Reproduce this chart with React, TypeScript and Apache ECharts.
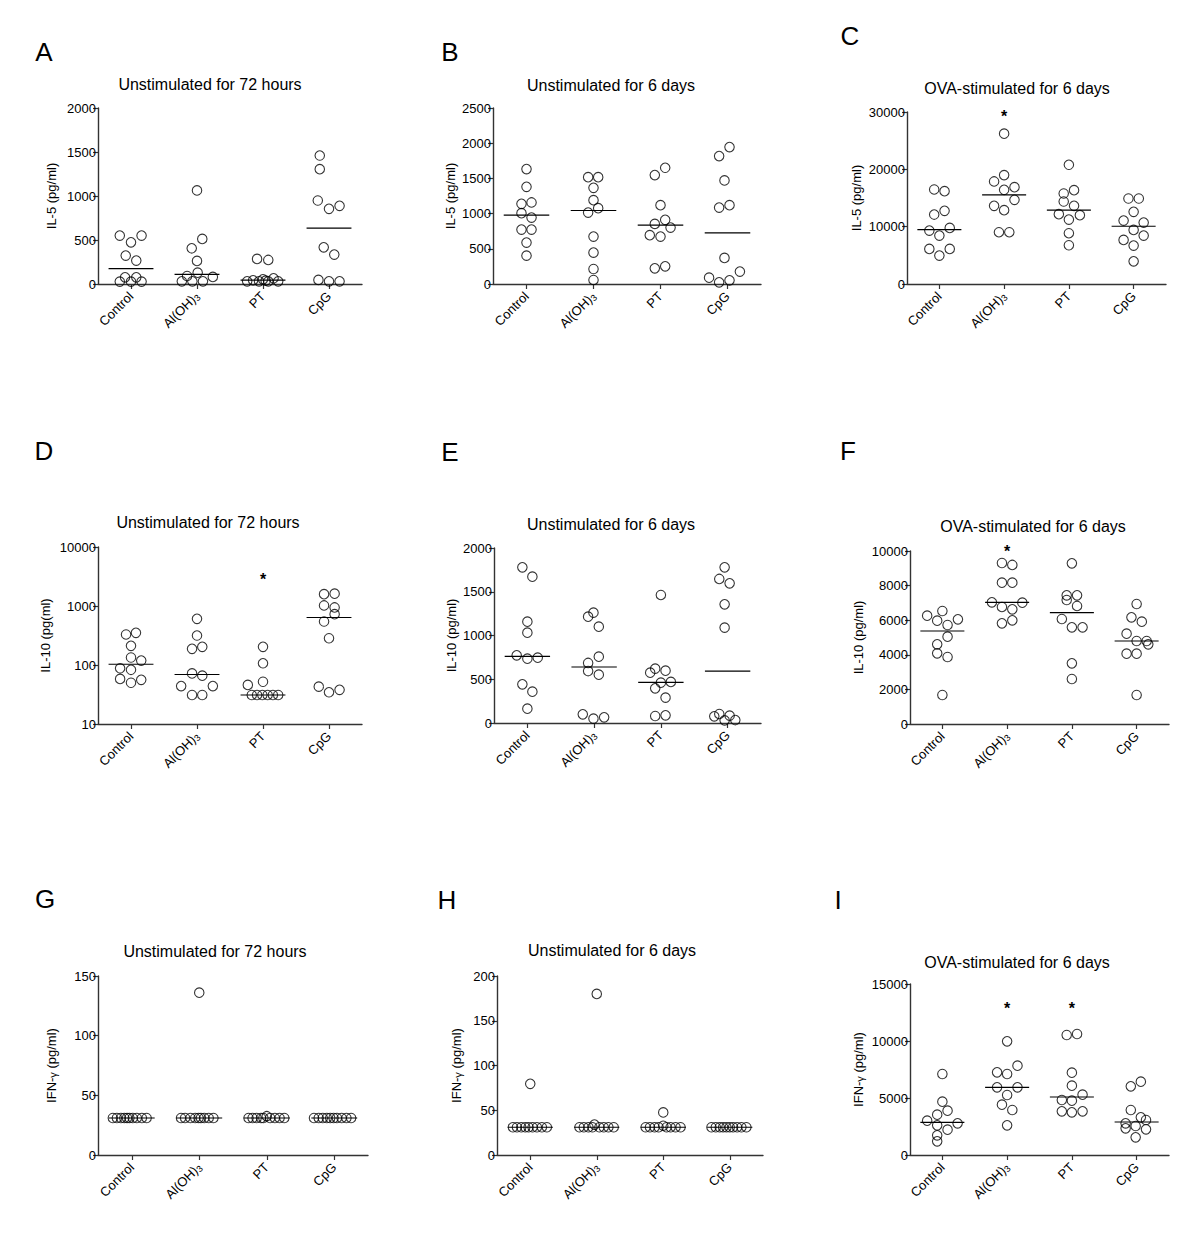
import React, { useEffect, useRef } from 'react';
import * as echarts from 'echarts';

const FONT = '"Liberation Sans", Arial, Helvetica, sans-serif';

const categories = ['Control', 'Al(OH)3', 'PT', 'CpG'];

// ---------------- Panel A : IL-5, unstimulated 72 h ----------------
const A_vals = [
  [550, 474, 550, 323, 266, 76, 76, 27, 27, 27],
  [1063, 512, 406, 262, 129, 91, 80, 30, 30, 30],
  [285, 273, 30, 42, 30, 53, 30, 65, 30, 38],
  [1460, 1305, 949, 854, 888, 417, 334, 46, 30, 30],
];
const A_dx = [
  [-0.17, 0, 0.16, -0.08, 0.08, -0.09, 0.08, -0.17, 0, 0.16],
  [0, 0.08, -0.08, 0, 0.01, -0.15, 0.24, -0.23, -0.07, 0.09],
  [-0.09, 0.08, -0.24, -0.15, -0.06, 0, 0.08, 0.16, 0.23, 0.04],
  [-0.14, -0.14, -0.17, 0, 0.16, -0.08, 0.08, -0.16, 0, 0.16],
];
const A_mid = [175, 110, 45, 634];
const A_star: number[][] = [];

// ---------------- Panel B : IL-5, unstimulated 6 d ----------------
const B_vals = [
  [1632, 1380, 1139, 1158, 1006, 944, 773, 773, 588, 403],
  [1518, 1518, 1366, 1191, 1015, 1077, 674, 446, 213, 57],
  [1547, 1651, 1120, 854, 911, 802, 693, 674, 223, 251],
  [1817, 1945, 1471, 1086, 1120, 370, 176, 90, 24, 52],
];
const B_dx = [
  [0, 0, -0.075, 0.075, -0.075, 0.075, -0.075, 0.075, 0, 0],
  [-0.08, 0.07, 0, 0, -0.08, 0.07, 0, 0, 0, 0],
  [-0.085, 0.07, 0, -0.085, 0.07, 0.15, -0.16, 0, -0.085, 0.07],
  [-0.125, 0.03, -0.045, -0.125, 0.03, -0.045, 0.185, -0.275, -0.125, 0.03],
];
const B_mid = [977, 1044, 835, 726];
const B_star: number[][] = [];

// ---------------- Panel C : IL-5, OVA 6 d ----------------
const C_vals = [
  [16485, 16194, 12116, 12757, 9320, 8446, 9786, 6116, 6116, 4951],
  [26213, 17883, 18990, 16427, 16893, 13630, 12873, 14679, 9029, 9029],
  [20796, 15786, 16368, 14388, 13630, 12174, 11242, 12000, 8854, 6757],
  [14912, 14912, 12582, 11068, 10718, 9437, 7689, 8446, 6699, 3961],
];
const C_dx = [
  [-0.08, 0.08, -0.08, 0.08, -0.155, 0, 0.16, -0.155, 0.16, 0],
  [0, -0.155, 0, 0, 0.16, -0.155, 0, 0.16, -0.08, 0.08],
  [0, -0.08, 0.08, -0.08, 0.08, -0.155, 0, 0.17, 0, 0],
  [-0.08, 0.08, 0, -0.155, 0.155, 0, -0.155, 0.155, 0, 0],
];
const C_mid = [9495, 15553, 12873, 10077];
const C_star = [[1, 30000]];

// ---------------- Panel D : IL-10, unstimulated 72 h (log) ----------------
const D_vals = [
  [329, 351, 211, 134, 119, 88, 83, 58, 56, 50],
  [607, 316, 188, 203, 72, 66, 44, 44, 31, 31],
  [203, 107, 52, 46, 31, 31, 31, 31, 31, 31],
  [1589, 1620, 1021, 944, 728, 546, 284, 43, 34.5, 38],
];
const D_dx = [
  [-0.075, 0.075, 0, 0, 0.155, -0.165, 0, -0.165, 0.155, 0],
  [0, 0, -0.075, 0.08, -0.075, 0.08, -0.24, 0.24, -0.075, 0.08],
  [0, 0, 0, -0.23, -0.17, -0.09, -0.01, 0.07, 0.15, 0.23],
  [-0.075, 0.085, -0.075, 0.085, 0.085, -0.075, 0, -0.155, 0, 0.16],
];
const D_mid = [103, 69, 31, 638];
const D_star = [[2, 3260]];

// ---------------- Panel E : IL-10, unstimulated 6 d ----------------
const E_vals = [
  [1779, 1672, 1158, 1032, 773, 735, 747, 442, 358, 164],
  [1215, 1261, 1101, 758, 686, 594, 552, 99, 50, 65],
  [1463, 575, 621, 598, 461, 469, 396, 290, 80, 88],
  [1779, 1646, 1596, 1356, 1090, 76, 103, 84, 30, 34],
];
const E_dx = [
  [-0.075, 0.075, 0, 0, -0.16, 0, 0.155, -0.075, 0.075, 0],
  [-0.09, -0.01, 0.07, 0.07, -0.09, -0.09, 0.07, -0.17, -0.01, 0.15],
  [0, -0.16, -0.085, 0.07, 0, 0.15, -0.085, 0.07, -0.085, 0.07],
  [-0.045, -0.125, 0.03, -0.045, -0.045, -0.2, -0.125, 0.03, -0.045, 0.115],
];
const E_mid = [762, 640, 465, 594];
const E_star: number[][] = [];

// ---------------- Panel F : IL-10, OVA 6 d ----------------
const F_vals = [
  [6262, 6532, 5973, 5723, 6051, 5049, 4606, 4085, 3873, 1676],
  [9307, 9192, 8171, 8171, 7033, 6764, 6629, 7014, 5820, 5993],
  [9288, 7438, 7438, 7168, 6822, 6070, 5588, 5588, 3507, 2601],
  [6937, 6166, 5916, 5222, 4798, 4798, 4606, 4066, 4066, 1676],
];
const F_dx = [
  [-0.235, 0, -0.08, 0.08, 0.24, 0.08, -0.08, -0.08, 0.08, 0],
  [-0.08, 0.08, -0.08, 0.08, -0.235, -0.08, 0.08, 0.235, -0.08, 0.08],
  [0, -0.08, 0.08, -0.08, 0.08, -0.155, 0, 0.165, 0, 0],
  [0, -0.08, 0.08, -0.155, 0, 0.155, 0.18, -0.155, 0, 0],
];
const F_mid = [5376, 7033, 6436, 4798];
const F_star = [[1, 10231]];

// ---------------- Panel G : IFN-γ, unstimulated 72 h ----------------
const G_vals = [
  [31, 31, 31, 31, 31, 31, 31, 31, 31, 31],
  [136, 31, 31, 31, 31, 31, 31, 31, 31, 31],
  [31, 31, 31, 31, 31, 32.5, 31, 31, 31, 31],
  [31, 31, 31, 31, 31, 31, 31, 31, 31, 31],
];
const G_dx = [
  [-0.28, -0.22, -0.16, -0.11, -0.07, -0.035, 0.015, 0.075, 0.15, 0.22],
  [0, -0.27, -0.21, -0.13, -0.06, -0.01, 0.025, 0.075, 0.14, 0.21],
  [-0.27, -0.21, -0.15, -0.085, -0.05, 0, 0.05, 0.12, 0.19, 0.26],
  [-0.3, -0.23, -0.17, -0.11, -0.06, -0.01, 0.04, 0.11, 0.18, 0.25],
];
const G_mid = [31, 31, 31, 31];
const G_star: number[][] = [];

// ---------------- Panel H : IFN-γ, unstimulated 6 d ----------------
const H_vals = [
  [79.5, 31, 31, 31, 31, 31, 31, 31, 31, 31],
  [180, 34, 31, 31, 31, 31, 31, 31, 31, 31],
  [47.6, 32.7, 31, 31, 31, 31, 31, 31, 31, 31],
  [31, 31, 31, 31, 31, 31, 31, 31, 31, 31],
];
const H_dx = [
  [0, -0.26, -0.2, -0.135, -0.075, -0.025, 0.035, 0.1, 0.175, 0.25],
  [0, -0.035, -0.26, -0.195, -0.125, -0.065, 0.04, 0.105, 0.175, 0.255],
  [0, 0, -0.265, -0.2, -0.13, -0.07, 0.05, 0.11, 0.185, 0.26],
  [-0.275, -0.21, -0.15, -0.1, -0.05, 0, 0.05, 0.11, 0.175, 0.25],
];
const H_mid = [31, 31, 31, 31];
const H_star: number[][] = [];

// ---------------- Panel I : IFN-γ, OVA 6 d ----------------
const I_vals = [
  [7105, 4678, 3538, 3889, 3012, 2602, 2222, 2778, 1725, 1199],
  [9971, 7252, 7105, 7836, 5936, 5936, 5263, 4415, 3947, 2602],
  [10527, 10614, 7222, 6082, 5293, 4825, 4766, 3830, 3830, 3743],
  [6023, 6433, 3947, 3304, 3070, 2778, 2544, 2339, 2251, 1550],
];
const I_dx = [
  [0, 0, -0.08, 0.08, -0.235, -0.08, 0.08, 0.235, -0.08, -0.08],
  [0, -0.155, 0, 0.16, -0.155, 0.16, 0, -0.08, 0.08, 0],
  [-0.08, 0.08, 0, 0, 0.165, -0.155, 0, 0.165, -0.155, 0],
  [-0.09, 0.065, -0.09, 0.065, 0.145, -0.17, -0.015, -0.17, 0.145, -0.015],
];
const I_mid = [2866, 5936, 5088, 2895];
const I_star = [[1, 13158], [2, 13158]];

const titles = {
  h72: 'Unstimulated for 72 hours',
  d6: 'Unstimulated for 6 days',
  ova: 'OVA-stimulated for 6 days',
};

type Panel = {
  letter: string;
  title: string;
  yName: string;
  yAxis: any;
  vals: number[][];
  dx: number[][];
  mid: number[];
  star: number[][];
  grid: { left: number; top: number; width: number; height: number };
  titlePos: [number, number];
  letterPos: [number, number];
  nameGap: number;
};

const panels: Panel[] = [
  {
    letter: 'A', title: titles.h72, yName: 'IL-5 (pg/ml)',
    yAxis: { type: 'value', min: 0, max: 2000, interval: 500 },
    vals: A_vals, dx: A_dx, mid: A_mid, star: A_star,
    grid: { left: 98, top: 108, width: 264, height: 176 },
    titlePos: [210, 84], letterPos: [44, 52], nameGap: 40,
  },
  {
    letter: 'B', title: titles.d6, yName: 'IL-5 (pg/ml)',
    yAxis: { type: 'value', min: 0, max: 2500, interval: 500 },
    vals: B_vals, dx: B_dx, mid: B_mid, star: B_star,
    grid: { left: 493, top: 108, width: 268, height: 176 },
    titlePos: [611, 85], letterPos: [450, 52], nameGap: 36,
  },
  {
    letter: 'C', title: titles.ova, yName: 'IL-5 (pg/ml)',
    yAxis: { type: 'value', min: 0, max: 30000, interval: 10000 },
    vals: C_vals, dx: C_dx, mid: C_mid, star: C_star,
    grid: { left: 907, top: 112, width: 259, height: 172 },
    titlePos: [1017, 88], letterPos: [850, 36], nameGap: 44,
  },
  {
    letter: 'D', title: titles.h72, yName: 'IL-10 (pg(ml)',
    yAxis: { type: 'log', logBase: 10, min: 10, max: 10000 },
    vals: D_vals, dx: D_dx, mid: D_mid, star: D_star,
    grid: { left: 98, top: 547, width: 264, height: 177 },
    titlePos: [208, 522], letterPos: [44, 451], nameGap: 46,
  },
  {
    letter: 'E', title: titles.d6, yName: 'IL-10 (pg/ml)',
    yAxis: { type: 'value', min: 0, max: 2000, interval: 500 },
    vals: E_vals, dx: E_dx, mid: E_mid, star: E_star,
    grid: { left: 494, top: 548, width: 267, height: 175 },
    titlePos: [611, 524], letterPos: [450, 452], nameGap: 36,
  },
  {
    letter: 'F', title: titles.ova, yName: 'IL-10 (pg/ml)',
    yAxis: { type: 'value', min: 0, max: 10000, interval: 2000 },
    vals: F_vals, dx: F_dx, mid: F_mid, star: F_star,
    grid: { left: 910, top: 551, width: 259, height: 173 },
    titlePos: [1033, 526], letterPos: [848, 451], nameGap: 45,
  },
  {
    letter: 'G', title: titles.h72, yName: 'IFN-{g|γ} (pg/ml)',
    yAxis: { type: 'value', min: 0, max: 150, interval: 50 },
    vals: G_vals, dx: G_dx, mid: G_mid, star: G_star,
    grid: { left: 98, top: 976, width: 270, height: 179 },
    titlePos: [215, 951], letterPos: [45, 899], nameGap: 40,
  },
  {
    letter: 'H', title: titles.d6, yName: 'IFN-{g|γ} (pg/ml)',
    yAxis: { type: 'value', min: 0, max: 200, interval: 50 },
    vals: H_vals, dx: H_dx, mid: H_mid, star: H_star,
    grid: { left: 497, top: 976, width: 266, height: 179 },
    titlePos: [612, 950], letterPos: [447, 900], nameGap: 34,
  },
  {
    letter: 'I', title: titles.ova, yName: 'IFN-{g|γ} (pg/ml)',
    yAxis: { type: 'value', min: 0, max: 15000, interval: 5000 },
    vals: I_vals, dx: I_dx, mid: I_mid, star: I_star,
    grid: { left: 910, top: 984, width: 259, height: 171 },
    titlePos: [1017, 962], letterPos: [838, 900], nameGap: 45,
  },
];

const AXIS_COLOR = '#333';
const HALF = 0.34;

function buildOption() {
  const grid: any[] = [];
  const xAxis: any[] = [];
  const yAxis: any[] = [];
  const series: any[] = [];
  const graphic: any[] = [];

  panels.forEach((p, k) => {
    grid.push({ ...p.grid, containLabel: false });
    xAxis.push({
      type: 'category',
      gridIndex: k,
      data: categories,
      boundaryGap: true,
      axisLine: { show: true, onZero: false, lineStyle: { color: AXIS_COLOR, width: 1.4 } },
      axisTick: { show: true, alignWithLabel: true, length: 5, lineStyle: { color: AXIS_COLOR, width: 1.2 } },
      axisLabel: {
        rotate: 45,
        interval: 0,
        margin: 10,
        color: '#000',
        fontSize: 13,
        fontFamily: FONT,
        formatter: (v: string) => (v === 'Al(OH)3' ? '{n|Al(OH)}{s|3}' : '{n|' + v + '}'),
        rich: {
          n: { fontSize: 13, fontFamily: FONT, color: '#000' },
          s: { fontSize: 9, fontFamily: FONT, color: '#000', padding: [6, 0, 0, 0] },
        },
      },
      splitLine: { show: false },
    });
    xAxis.push({ type: 'value', gridIndex: k, min: -0.5, max: 3.5, show: false });
    yAxis.push({
      ...p.yAxis,
      gridIndex: k,
      name: p.yName,
      nameLocation: 'middle',
      nameGap: p.nameGap,
      nameTextStyle: {
        fontSize: 13,
        color: '#000',
        fontFamily: FONT,
        rich: { g: { fontSize: 11, color: '#000', fontFamily: FONT, padding: [3, 0, 0, 0] } },
      },
      axisLine: { show: true, onZero: false, lineStyle: { color: AXIS_COLOR, width: 1.4 } },
      axisTick: { show: true, length: 5, lineStyle: { color: AXIS_COLOR, width: 1.2 } },
      minorTick: { show: false },
      axisLabel: {
        color: '#000',
        fontSize: 13,
        fontFamily: FONT,
        margin: 2,
        formatter: (v: number) => String(v),
      },
      splitLine: { show: false },
    });

    const pts: number[][] = [];
    p.vals.forEach((g, gi) => g.forEach((v, i) => pts.push([gi + p.dx[gi][i], v])));

    series.push({
      type: 'scatter',
      xAxisIndex: 2 * k + 1,
      yAxisIndex: k,
      data: pts,
      symbol: 'circle',
      symbolSize: 9.5,
      itemStyle: { color: 'rgba(0,0,0,0)', borderColor: '#000', borderWidth: 1.1 },
      silent: true,
      z: 3,
    });
    series.push({
      type: 'custom',
      xAxisIndex: 2 * k + 1,
      yAxisIndex: k,
      data: p.mid.map((m, gi) => [gi, m]),
      silent: true,
      z: 2,
      renderItem: (params: any, api: any) => {
        const x = api.value(0);
        const y = api.value(1);
        const a = api.coord([x - HALF, y]);
        const b = api.coord([x + HALF, y]);
        return {
          type: 'line',
          shape: { x1: a[0], y1: a[1], x2: b[0], y2: b[1] },
          style: { stroke: '#000', lineWidth: 1.2 },
        };
      },
    });
    if (p.star.length) {
      series.push({
        type: 'custom',
        xAxisIndex: 2 * k + 1,
        yAxisIndex: k,
        data: p.star,
        silent: true,
        clip: false,
        z: 4,
        renderItem: (params: any, api: any) => {
          const c = api.coord([api.value(0), api.value(1)]);
          return {
            type: 'text',
            x: c[0],
            y: c[1] + 4,
            style: {
              text: '*',
              fontSize: 16,
              fontWeight: 'bold',
              fontFamily: FONT,
              fill: '#000',
              align: 'center',
              verticalAlign: 'middle',
              textAlign: 'center',
              textVerticalAlign: 'middle',
            },
          };
        },
      });
    }

    graphic.push({
      type: 'text',
      x: p.titlePos[0],
      y: p.titlePos[1],
      silent: true,
      style: {
        text: p.title,
        fontSize: 16,
        fontFamily: FONT,
        fill: '#000',
        textAlign: 'center',
        textVerticalAlign: 'middle',
      },
    });
    graphic.push({
      type: 'text',
      x: p.letterPos[0],
      y: p.letterPos[1],
      silent: true,
      style: {
        text: p.letter,
        fontSize: 26,
        fontFamily: FONT,
        fill: '#000',
        textAlign: 'center',
        textVerticalAlign: 'middle',
      },
    });
  });

  return {
    animation: false,
    backgroundColor: '#fff',
    grid,
    xAxis,
    yAxis,
    series,
    graphic,
  };
}

export default function App() {
  const ref = useRef<HTMLDivElement>(null);
  useEffect(() => {
    if (!ref.current) return;
    const chart = echarts.init(ref.current, undefined, { renderer: 'svg' });
    chart.setOption(buildOption() as any);
    return () => chart.dispose();
  }, []);
  return (
    <div
      ref={ref}
      style={{ position: 'absolute', left: 0, top: 0, width: 1200, height: 1242, background: '#fff' }}
    />
  );
}
